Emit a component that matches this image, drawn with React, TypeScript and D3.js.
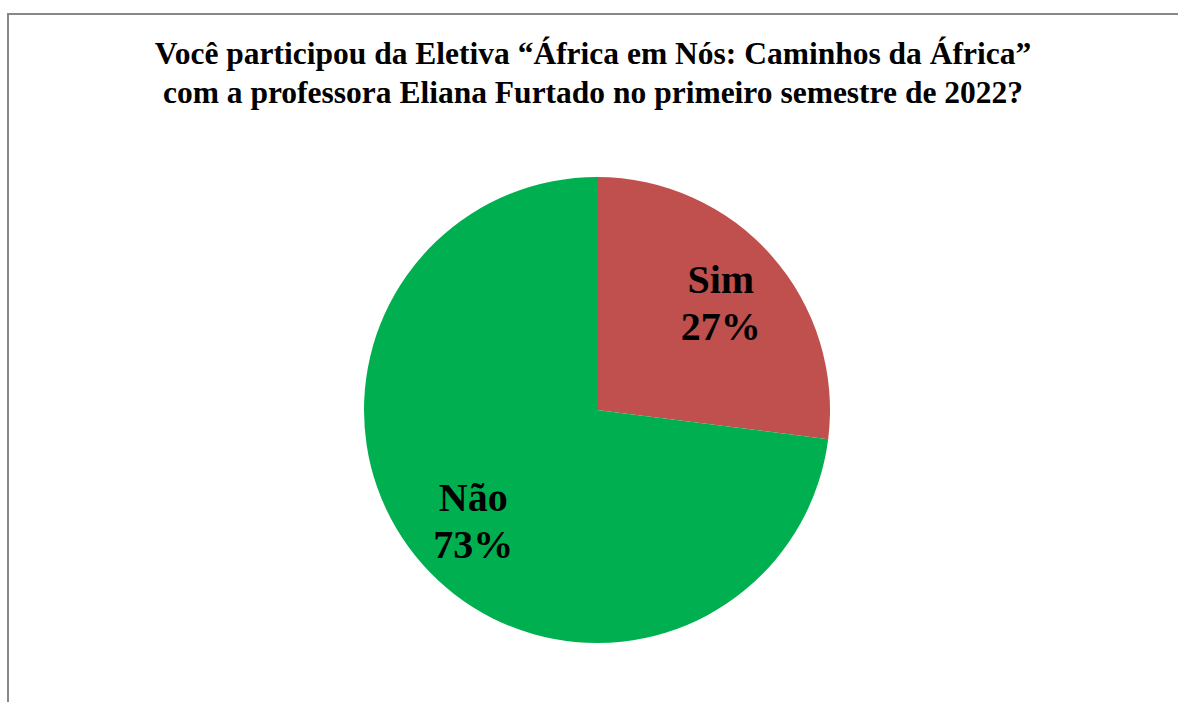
import React from "react";
import * as d3 from "d3";

const categories = ["Sim", "Não"];
const values = [27, 73];
const colors = ["#C0504D", "#00B050"];
const titleLines = [
  "Você participou da Eletiva “África em Nós: Caminhos da África”",
  "com a professora Eliana Furtado no primeiro semestre de 2022?",
];

export default function App() {
  const W = 1178, H = 702;
  const cx = 597, cy = 410, r = 233;
  const pie = d3.pie<number>().sort(null).value((d) => d)(values);
  const arc = d3.arc<d3.PieArcDatum<number>>().innerRadius(0).outerRadius(r);
  const labelArc = d3.arc<d3.PieArcDatum<number>>().innerRadius(165).outerRadius(165);
  const total = d3.sum(values);
  return (
    <svg width={W} height={H} style={{ position: "absolute", left: 0, top: 0, display: "block" }}>
      <rect x={0} y={0} width={W} height={H} fill="#fff" />
      <line x1={7} y1={14} x2={W} y2={14} stroke="#888" strokeWidth={2} />
      <line x1={8} y1={13} x2={8} y2={H} stroke="#888" strokeWidth={2} />
      <g fontFamily="'Liberation Serif', 'Times New Roman', serif" fontWeight="bold" fill="#000">
        {titleLines.map((t, i) => (
          <text key={i} x={593} y={64 + i * 39} textAnchor="middle" fontSize={31.5}>{t}</text>
        ))}
      </g>
      <g transform={`translate(${cx},${cy})`}>
        {pie.map((p, i) => (
          <path key={i} d={arc(p) || ""} fill={colors[i]} />
        ))}
        {pie.map((p, i) => {
          const [lx, ly] = labelArc.centroid(p);
          return (
            <text key={"l" + i} textAnchor="middle" fontFamily="'Liberation Serif', 'Times New Roman', serif" fontWeight="bold" fontSize={40} fill="#000">
              <tspan x={lx} y={ly - 8}>{categories[i]}</tspan>
              <tspan x={lx} y={ly + 39}>{Math.round((values[i] / total) * 100) + "%"}</tspan>
            </text>
          );
        })}
      </g>
    </svg>
  );
}
